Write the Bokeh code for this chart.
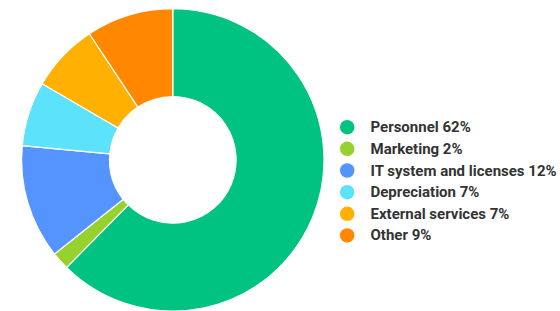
import math
from bokeh.plotting import figure
from bokeh.models import Range1d, ColumnDataSource
from bokeh.core.properties import value
from bokeh.embed import file_html
from bokeh.resources import INLINE

categories = ["Personnel", "Marketing", "IT system and licenses", "Depreciation", "External services", "Other"]
shares = [62.4, 1.9, 12.2, 6.9, 7.3, 9.3]
labels = ["62%", "2%", "12%", "7%", "7%", "9%"]
colors = ["#00C382", "#96D22D", "#5594FF", "#5CE2FA", "#FFB000", "#FF8800"]

W, H = 560, 311
p = figure(width=W, height=H, output_backend="svg", toolbar_location=None,
           x_range=Range1d(0, W), y_range=Range1d(0, H),
           min_border=0, min_border_left=0, min_border_right=0,
           min_border_top=0, min_border_bottom=0)
p.axis.visible = False
p.grid.visible = False
p.outline_line_color = None
p.background_fill_color = "white"
p.border_fill_color = "white"

def py(y):
    return H - y

total = sum(shares)
starts, ends = [], []
acc = 0.0
for s in shares:
    a0 = math.pi / 2 - 2 * math.pi * acc / total
    acc += s
    a1 = math.pi / 2 - 2 * math.pi * acc / total
    starts.append(a0)
    ends.append(a1)

cx, cy = 172.3, py(159.4)
src = ColumnDataSource(dict(start=starts, end=ends, color=colors))
p.annular_wedge(x=cx, y=cy, inner_radius=63.3, outer_radius=151.2,
                start_angle="start", end_angle="end", direction="clock",
                fill_color="color", line_color="white", line_width=1.2,
                source=src, inner_radius_units="data", outer_radius_units="data")

texts = [f"{c} {l}" for c, l in zip(categories, labels)]
ly = [py(126.7 + i * 21.65) for i in range(len(categories))]
lsrc = ColumnDataSource(dict(x=[346.7] * len(texts), tx=[370.0] * len(texts), y=ly,
                             color=colors, text=texts))
p.scatter(x="x", y="y", size=14.5, marker="circle", fill_color="color",
          line_color=None, source=lsrc)
p.text(x="tx", y="y", text="text", source=lsrc, text_font=value("Roboto"),
       text_font_style="bold", text_font_size="15px", text_color="#333333",
       text_baseline="middle", text_align="left")

open("out.html", "w").write(file_html(p, INLINE))
